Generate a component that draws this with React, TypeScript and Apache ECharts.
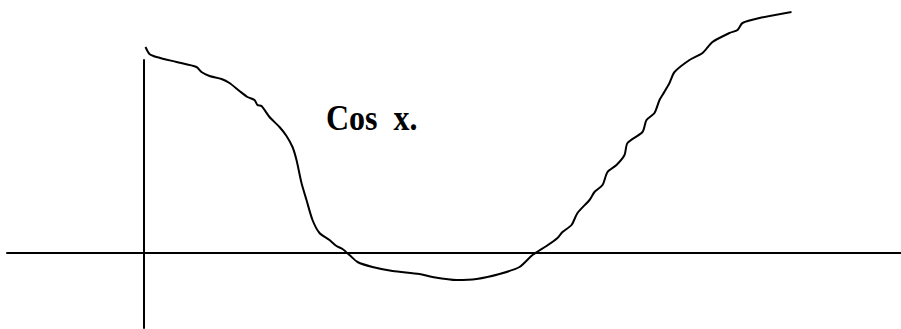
import React, { useEffect, useRef } from "react";
import * as echarts from "echarts";

// Sketched cosine curve: x to the right of the vertical axis, y above the horizontal axis
const curveX = [
  2, 6, 13, 33, 53, 58, 66, 78, 86, 96, 104, 111, 114, 118, 126, 136, 143, 149, 153, 158,
  163, 169, 176, 186, 193, 199, 206, 214, 229, 249, 276, 289, 313, 333, 356, 376, 389, 403,
  414, 419, 428, 434, 446, 451, 459, 464, 473, 481, 484, 499, 503, 511, 516, 519, 526, 531,
  546, 559, 569, 586, 594, 599, 616, 648,
];
const curveY = [
  206, 199, 196, 191, 186, 181, 177, 174, 170, 162, 156, 153, 148, 147, 136, 126, 117, 106,
  93, 70, 53, 33, 20, 13, 7, 4, -2, -9, -14, -18, -21, -24, -27, -26, -21, -14, -2, 7, 15,
  21, 28, 40, 53, 61, 68, 81, 88, 98, 110, 121, 133, 140, 153, 158, 170, 181, 193, 200, 211,
  220, 223, 230, 235, 241,
];
const caption = "Cos  x.";

export default function App() {
  const ref = useRef<HTMLDivElement>(null);

  useEffect(() => {
    if (!ref.current) return;
    const chart = echarts.init(ref.current, null, { renderer: "svg" });
    const data = curveX.map((x, i) => [x, curveY[i]]);
    chart.setOption({
      animation: false,
      backgroundColor: "#ffffff",
      grid: { left: 7, right: 0, top: 60, bottom: 1 },
      xAxis: {
        type: "value",
        min: -136.5,
        max: 757.5,
        axisLine: { show: true, onZero: true, lineStyle: { color: "#000", width: 2 } },
        axisTick: { show: false },
        axisLabel: { show: false },
        splitLine: { show: false },
      },
      yAxis: {
        type: "value",
        min: -75,
        max: 193,
        axisLine: { show: true, onZero: true, lineStyle: { color: "#000", width: 2 } },
        axisTick: { show: false },
        axisLabel: { show: false },
        splitLine: { show: false },
      },
      graphic: [
        {
          type: "text",
          x: 326,
          y: 100,
          scaleY: 1.1,
          style: {
            text: caption,
            fill: "#000",
            font: "bold 32px 'Liberation Serif', 'Times New Roman', serif",
          },
        },
      ],
      series: [
        {
          type: "line",
          data,
          clip: false,
          smooth: 0.25,
          showSymbol: false,
          symbol: "none",
          lineStyle: { color: "#000", width: 2 },
        },
      ],
    });
    return () => chart.dispose();
  }, []);

  return (
    <div
      ref={ref}
      style={{ position: "fixed", left: 0, top: 0, width: 901, height: 329, background: "#fff" }}
    />
  );
}
